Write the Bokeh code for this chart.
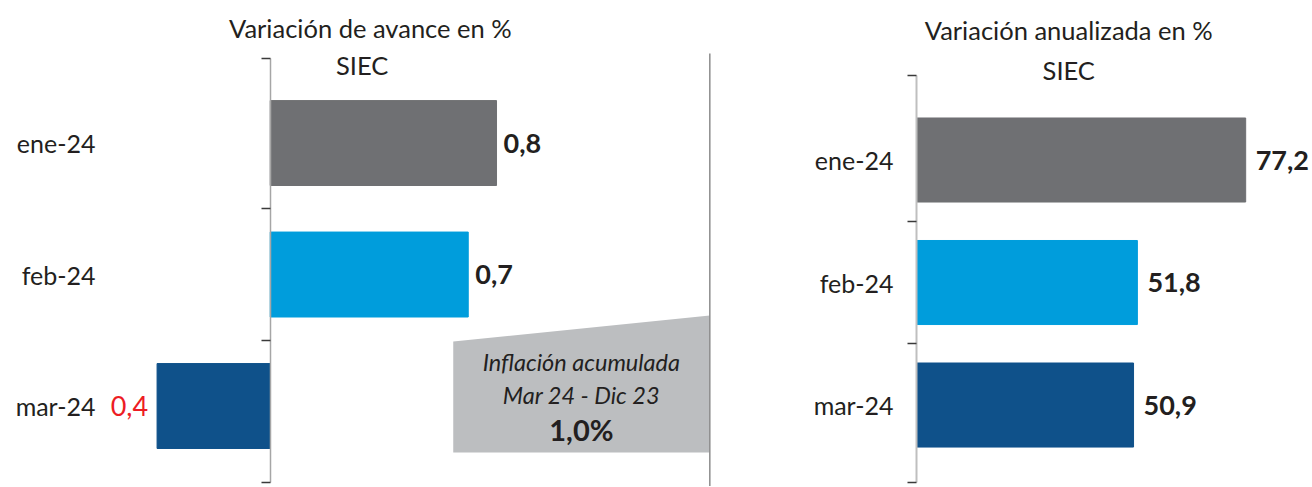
from bokeh.plotting import figure
from bokeh.layouts import row
from bokeh.models import Range1d, LinearAxis, FixedTicker, Label, ColumnDataSource
from bokeh.embed import file_html
from bokeh.resources import INLINE
from bokeh.core.properties import value

# ---------------- data ----------------
categories = ["ene-24", "feb-24", "mar-24"]
avance = [0.8, 0.7, -0.4]
anualizada = [77.2, 51.8, 50.9]
bar_colors = ["#6f7073", "#009ddc", "#0f518a"]
left_title = ["Variación de avance en %", "SIEC"]
right_title = ["Variación anualizada en %", "SIEC"]
callout_lines = ["Inflación acumulada", "Mar 24 - Dic 23", "1,0%"]

FONT = "Lato"
TEXT = "#231f20"
NEG = "#ed1c24"

ypos = [len(categories) - 1 - i for i in range(len(categories))]


def fmt(v):
    return f"{abs(v):.1f}".replace(".", ",")


def make_source(vals, pos_off, neg_off):
    return ColumnDataSource(dict(
        y=ypos,
        v=vals,
        color=bar_colors,
        lbl=[fmt(v) for v in vals],
        align=["left" if v >= 0 else "right" for v in vals],
        xoff=[pos_off if v >= 0 else neg_off for v in vals],
        tcolor=[TEXT if v >= 0 else NEG for v in vals],
        style=["bold" if v >= 0 else "normal" for v in vals],
    ))


def add_axes(p, y_lo, y_top, standoff, line_color, line_width):
    lab_ax = LinearAxis(
        ticker=FixedTicker(ticks=ypos),
        major_label_overrides={y: c for y, c in zip(ypos, categories)},
        axis_line_color=None, major_tick_line_color=None, minor_tick_line_color=None,
        major_tick_in=0, major_tick_out=0,
        major_label_standoff=standoff, major_label_text_font=FONT,
        major_label_text_font_size="25px", major_label_text_color=TEXT,
    )
    p.add_layout(lab_ax, "left")
    zero_ax = LinearAxis(
        fixed_location=0,
        ticker=FixedTicker(ticks=[y_lo, 0.5, 1.5, y_top]),
        bounds=(y_lo, y_top),
        major_label_text_font_size="0px", major_label_text_color=None,
        major_tick_out=9, major_tick_in=0, major_tick_line_color="#3a3a3a",
        major_tick_line_width=1.5,
        axis_line_color=line_color, axis_line_width=line_width,
        minor_tick_line_color=None,
    )
    p.add_layout(zero_ax, "left")


# ---------------- left panel ----------------
yl = Range1d(-0.612, 3.084)
xl = Range1d(-0.60, 1.5635)
p1 = figure(width=760, height=486, x_range=xl, y_range=yl,
            output_backend="svg", toolbar_location=None,
            x_axis_location=None, y_axis_location=None,
            min_border_left=100, min_border_right=48,
            min_border_top=0, min_border_bottom=0,
            outline_line_color=None)
p1.grid.visible = False
add_axes(p1, -0.582, 2.643, 5, "#a6a6a6", 1.5)

s1 = make_source(avance, 7, -9)
p1.hbar(y="y", left=0, right="v", height=0.646, color="color", source=s1)
p1.text(x="v", y="y", text="lbl", x_offset="xoff", text_align="align",
        text_baseline="middle", text_color="tcolor", text_font_style="style",
        text_font=value(FONT), text_font_size="27px", source=s1)

# callout box
sep = 1.554
cx = [0.647, sep, sep, 0.647]
cy = [0.490, 0.689, -0.353, -0.353]
p1.patch(x=cx, y=cy, fill_color="#bcbec0", line_color=None)
p1.segment(x0=[sep], x1=[sep], y0=[2.681], y1=[yl.start], line_color="#8c8c8c", line_width=1.5)
for txt, yy, st, fs in zip(callout_lines, [0.338, 0.087, -0.179],
                           ["italic", "italic", "bold"], ["23.5px", "23.5px", "29px"]):
    p1.add_layout(Label(x=1.100, y=yy, text=txt, text_align="center", text_baseline="middle",
                        text_font=FONT, text_font_style=st, text_font_size=fs, text_color=TEXT))

for txt, xx, yy in zip(left_title, [0.354, 0.325], [2.878, 2.595]):
    p1.add_layout(Label(x=xx, y=yy, text=txt, text_align="center", text_baseline="middle",
                        text_font=FONT, text_font_size="25.5px", text_color=TEXT))

# ---------------- right panel ----------------
yr = Range1d(-0.665, 3.302)
xr = Range1d(-3.754, 92.4)
p2 = figure(width=550, height=486, x_range=xr, y_range=yr,
            output_backend="svg", toolbar_location=None,
            x_axis_location=None, y_axis_location=None,
            min_border_left=140, min_border_right=0,
            min_border_top=0, min_border_bottom=0,
            outline_line_color=None)
p2.grid.visible = False
add_axes(p2, -0.633, 2.69, 7, "#bfbfbf", 2)

s2 = make_source(anualizada, 10, -10)
p2.hbar(y="y", left=0, right="v", height=0.686, color="color", source=s2)
p2.text(x="v", y="y", text="lbl", x_offset="xoff", text_align="align",
        text_baseline="middle", text_color="tcolor", text_font_style="style",
        text_font=value(FONT), text_font_size="27px", source=s2)

for txt, yy in zip(right_title, [3.06, 2.735]):
    p2.add_layout(Label(x=35.7, y=yy, text=txt, text_align="center", text_baseline="middle",
                        text_font=FONT, text_font_size="25.5px", text_color=TEXT))

layout = row(p1, p2, spacing=0)
open("out.html", "w").write(file_html(layout, INLINE))
